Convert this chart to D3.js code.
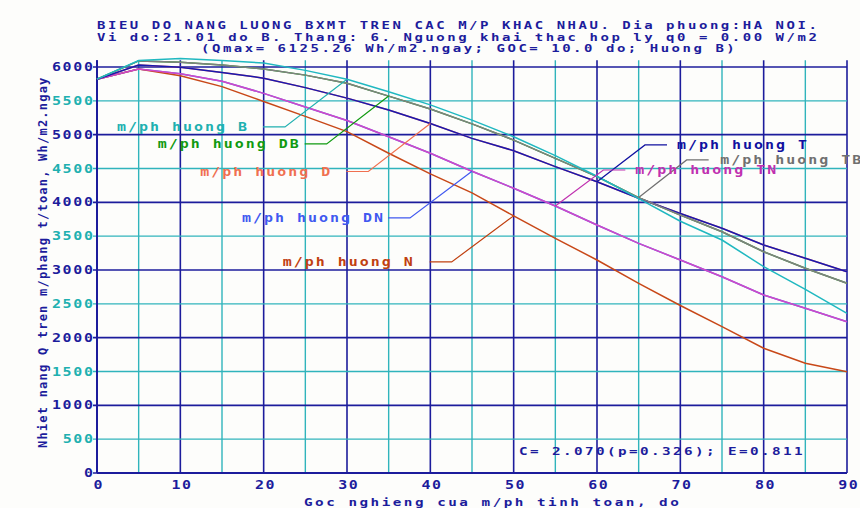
<!DOCTYPE html>
<html>
<head>
<meta charset="utf-8">
<script src="https://cdn.jsdelivr.net/npm/d3@7"></script>
<style>
  body { margin: 0; background: #fdfdfb; }
  svg { display: block; }
  text { font-family: "DejaVu Sans Mono", monospace; font-weight: bold; }
</style>
</head>
<body>
<div id="chart"></div>
<script>
// data (Q in Wh/m2.ngay, every 5 degrees)
let angles = [0, 5, 10, 15, 20, 25, 30, 35, 40, 45, 50, 55, 60, 65, 70, 75, 80, 85, 90];

let qB  = [5820, 6095, 6125, 6095, 6060, 5950, 5818, 5635, 5440, 5215, 4970, 4690, 4385, 4055, 3720, 3443, 3050, 2715, 2360];
let qTB = [5820, 6090, 6070, 6030, 5970, 5880, 5760, 5570, 5380, 5160, 4920, 4650, 4380, 4070, 3813, 3566, 3270, 3025, 2803];
let qT  = [5820, 6030, 5995, 5920, 5835, 5695, 5540, 5365, 5165, 4945, 4763, 4527, 4305, 4060, 3835, 3616, 3370, 3173, 2975];
let qTN = [5820, 5970, 5900, 5790, 5610, 5410, 5210, 4970, 4725, 4460, 4208, 3946, 3665, 3394, 3148, 2901, 2630, 2434, 2236];
let qN  = [5820, 5970, 5870, 5710, 5490, 5270, 5045, 4725, 4420, 4140, 3800, 3468, 3148, 2803, 2475, 2162, 1843, 1621, 1497];
// east-facing ones are the mirror of the west-facing ones, so they sit under them
let qDB = qTB.slice();
let qD  = qT.slice();
let qDN = qTN.slice();

let xTicks = [0, 10, 20, 30, 40, 50, 60, 70, 80, 90];
let yTicks = [0, 500, 1000, 1500, 2000, 2500, 3000, 3500, 4000, 4500, 5000, 5500, 6000];

let titleLines = [
    "BIEU DO NANG LUONG BXMT TREN CAC M/P KHAC NHAU. Dia phuong:HA NOI.",
    "Vi do:21.01 do B. Thang: 6. Nguong khai thac hop ly q0 =  0.00 W/m2",
    "(Qmax= 6125.26 Wh/m2.ngay; GOC= 10.0 do; Huong B)"
];
let noteText = "C= 2.070(p=0.326); E=0.811";

// series in drawing order (hidden ones first)
let series = [
    { name: "DB", values: qDB, color: "#20a020" },
    { name: "D",  values: qD,  color: "#f07060" },
    { name: "DN", values: qDN, color: "#5068f0" },
    { name: "N",  values: qN,  color: "#c84818" },
    { name: "TN", values: qTN, color: "#d048c8" },
    { name: "T",  values: qT,  color: "#1818b0" },
    { name: "TB", values: qTB, color: "#808080" },
    { name: "B",  values: qB,  color: "#20b8c0" }
];

// labels: where the leader meets the curve (deg) and where the text starts (deg, Q)
let labels = [
    { name: "B",  text: "m/ph huong B",  color: "#20b0b0", hit: 30, tx: 2.4,  ty: 5114, side: "left" },
    { name: "DB", text: "m/ph huong DB", color: "#109a10", hit: 35, tx: 7.3,  ty: 4863, side: "left" },
    { name: "D",  text: "m/ph huong D",  color: "#f07050", hit: 40, tx: 12.4, ty: 4456, side: "left" },
    { name: "DN", text: "m/ph huong DN", color: "#4058f0", hit: 45, tx: 17.4, ty: 3769, side: "left" },
    { name: "N",  text: "m/ph huong N",  color: "#c04010", hit: 50, tx: 22.3, ty: 3119, side: "left" },
    { name: "T",  text: "m/ph huong T",  color: "#1010a0", hit: 60, tx: 69.6, ty: 4848, side: "right" },
    { name: "TB", text: "m/ph huong TB", color: "#707070", hit: 65, tx: 74.8, ty: 4626, side: "right" },
    { name: "TN", text: "m/ph huong TN", color: "#c030b0", hit: 55, tx: 64.6, ty: 4478, side: "right" }
];

const width = 860, height = 508;
const navy = "#1c1c9c", cyan = "#30b4bc";

let svg = d3.select("#chart").append("svg")
    .attr("width", width)
    .attr("height", height);

svg.append("rect").attr("width", width).attr("height", height).attr("fill", "#fdfdfb");

let x = d3.scaleLinear().domain([0, 90]).range([97, 847]);
let y = d3.scaleLinear().domain([0, 6000]).range([473, 67]);
let yTop = y(6100);

// old screen font: wide glyphs, so stretch monospace text sideways
// and fill the rest of each cell with letter spacing
function wideText(parent, px, py, str, opts) {
    let fs = opts.size || 11, sx = opts.sx || 1.3, cell = opts.cell || 11;
    let g = parent.append("g")
        .attr("transform", "translate(" + px + "," + py + ")" + (opts.rotate ? " rotate(-90)" : "") + " scale(" + sx + ",1)");
    let t = g.append("text")
        .attr("dy", "0.36em")
        .attr("fill", opts.color)
        .attr("text-anchor", opts.anchor || "start")
        .style("font-size", fs + "px")
        .style("letter-spacing", (cell / sx - 0.602 * fs) + "px")
        .text(str);
    // letter spacing leaves a trailing gap, pull end/middle anchored text back
    if (opts.anchor == "end") t.attr("dx", (cell / sx - 0.602 * fs) + "px");
    if (opts.anchor == "middle") t.attr("dx", (cell / sx - 0.602 * fs) / 2 + "px");
    return g;
}

// grid
let vLines = d3.range(0, 91, 5);
svg.append("g").selectAll("line")
    .data(vLines)
    .enter().append("line")
    .attr("x1", d => x(d)).attr("x2", d => x(d))
    .attr("y1", yTop).attr("y2", y(0))
    .attr("stroke", d => d % 10 == 0 ? navy : cyan)
    .attr("stroke-width", d => d % 10 == 0 ? 1.6 : 1.4);

svg.append("g").selectAll("line")
    .data(yTicks)
    .enter().append("line")
    .attr("x1", x(0) - 4).attr("x2", x(90))
    .attr("y1", d => y(d)).attr("y2", d => y(d))
    .attr("stroke", d => d % 1000 == 0 ? navy : cyan)
    .attr("stroke-width", d => d % 1000 == 0 ? 1.6 : 1.4);

// axes frame
svg.append("line").attr("x1", x(0)).attr("x2", x(0)).attr("y1", yTop).attr("y2", y(0))
    .attr("stroke", navy).attr("stroke-width", 2);
svg.append("line").attr("x1", x(0)).attr("x2", x(90)).attr("y1", y(0)).attr("y2", y(0))
    .attr("stroke", navy).attr("stroke-width", 2.2);

// tick labels
let yLab = svg.append("g");
yTicks.forEach(d => {
    wideText(yLab, x(0) - 4, y(d), String(d),
        { color: d % 1000 == 0 ? navy : "#20b0b0", anchor: "end", cell: 10.7, size: 11.5 });
});
let xLab = svg.append("g");
xTicks.forEach(d => {
    wideText(xLab, x(d) + 1, 485, String(d),
        { color: navy, anchor: "middle", cell: 10.5, size: 11.5 });
});

// axis titles
wideText(svg, 304, 502, "Goc nghieng cua m/ph tinh toan, do", { color: navy, cell: 11.1 });
wideText(svg, 43, 448, "Nhiet nang Q tren m/phang t/toan, Wh/m2.ngay",
    { color: navy, cell: 8.45, sx: 1.05, size: 11.5, rotate: true });

// title
let titleX = [97, 97, 201];
let titleY = [25, 37, 48];
titleLines.forEach((t, i) => {
    wideText(svg, titleX[i], titleY[i], t, { color: navy, cell: 10.95, size: 10, sx: 1.4 });
});

// curves
let line = d3.line()
    .x((d, i) => x(angles[i]))
    .y(d => y(d));

svg.append("g").selectAll("path")
    .data(series)
    .enter().append("path")
    .attr("d", d => line(d.values))
    .attr("fill", "none")
    .attr("stroke", d => d.color)
    .attr("stroke-width", 1.5);

// labels with leader lines
labels.forEach(l => {
    let s = series.find(d => d.name == l.name);
    let px = x(l.hit), py = y(s.values[angles.indexOf(l.hit)]);
    let ly = y(l.ty);
    let kx = l.side == "left" ? px - 62 : px + 48;
    let ex = l.side == "left" ? kx - 22 : kx + 22;

    svg.append("path")
        .attr("d", "M" + ex + "," + ly + "L" + kx + "," + ly + "L" + px + "," + py)
        .attr("fill", "none")
        .attr("stroke", l.color)
        .attr("stroke-width", 1.2);

    wideText(svg, x(l.tx), ly, l.text, { color: l.color, cell: 11, size: 11.5 });
});

// fit note
wideText(svg, 519, 451, noteText, { color: navy, cell: 11, size: 11 });
</script>
</body>
</html>
